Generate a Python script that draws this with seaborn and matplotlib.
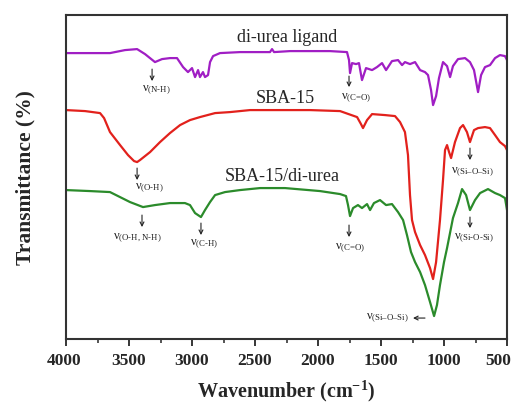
import numpy as np
import pandas as pd
import seaborn as sns
import matplotlib.pyplot as plt
import matplotlib.transforms as mtransforms
from matplotlib.ticker import MultipleLocator

# spectra (wavenumber in cm-1, transmittance in arbitrary offset units)
ligand_wn = [4000, 3810, 3651, 3532, 3436, 3373, 3294, 3238, 3175, 3119, 3071, 3032, 3000, 2976,
             2952, 2937, 2913, 2897, 2873, 2857, 2833, 2778, 2619, 2460, 2381, 2365, 2349, 2222,
             2063, 1905, 1770, 1754, 1746, 1730, 1698, 1675, 1651, 1619, 1571, 1532, 1492, 1460,
             1413, 1365, 1333, 1310, 1270, 1230, 1190, 1151, 1127, 1103, 1087, 1063, 1040, 1008,
             976, 952, 929, 889, 833, 794, 762, 730, 706, 675, 635, 595, 556, 516, 500]
ligand_t = [286, 286, 286, 289, 290, 285, 277, 280, 281, 281, 272, 267, 271, 262,
            269, 262, 267, 262, 264, 277, 283, 286, 287, 287, 287, 290, 287, 288,
            288, 288, 287, 279, 266, 276, 275, 276, 259, 271, 269, 272, 276, 269,
            278, 279, 274, 277, 275, 277, 269, 267, 264, 249, 234, 243, 261, 277,
            273, 262, 273, 280, 281, 277, 269, 247, 264, 272, 274, 281, 284, 283, 279]

sba_wn = [4000, 3849, 3730, 3698, 3651, 3571, 3508, 3460, 3436, 3413, 3333, 3254, 3175, 3095,
          3016, 2937, 2817, 2698, 2540, 2381, 2222, 2063, 1825, 1690, 1659, 1643, 1611, 1571,
          1468, 1389, 1349, 1310, 1286, 1270, 1254, 1230, 1190, 1151, 1111, 1087, 1063, 1032,
          1008, 992, 976, 960, 944, 913, 873, 849, 818, 794, 762, 730, 675, 635, 595, 556,
          516, 500]
sba_t = [229, 228, 226, 221, 207, 194, 184, 178, 177, 179, 187, 197, 206, 214,
         219, 222, 226, 227, 229, 229, 229, 229, 228, 222, 215, 211, 219, 225,
         224, 223, 217, 207, 184, 144, 119, 107, 94, 84, 71, 60, 77, 119,
         159, 189, 194, 187, 181, 197, 211, 214, 207, 197, 209, 211, 212, 211, 204, 197,
         193, 189]

hybrid_wn = [4000, 3810, 3651, 3492, 3389, 3294, 3175, 3056, 3016, 2976, 2929, 2897, 2857, 2817,
             2738, 2619, 2460, 2262, 1984, 1825, 1778, 1762, 1746, 1722, 1683, 1651, 1611, 1587,
             1556, 1508, 1460, 1413, 1365, 1325, 1294, 1262, 1230, 1190, 1151, 1111, 1079, 1056,
             1032, 1000, 976, 929, 889, 857, 825, 794, 754, 714, 651, 595, 556, 516, 500]
hybrid_t = [149, 148, 147, 137, 132, 134, 136, 136, 134, 126, 122, 129, 137, 144,
            147, 149, 151, 151, 148, 145, 143, 134, 123, 131, 134, 131, 135, 129,
            136, 139, 134, 135, 127, 119, 104, 87, 77, 67, 54, 37, 23, 34,
            54, 77, 91, 121, 136, 150, 144, 129, 139, 146, 150, 146, 144, 141, 129]

sample_names = ['di-urea ligand', 'SBA-15', 'SBA-15/di-urea']
sample_colors = ['#A01EC4', '#E2211C', '#2B8B2B']

df = pd.concat([
    pd.DataFrame({'wn': ligand_wn, 't': ligand_t, 'sample': sample_names[0]}),
    pd.DataFrame({'wn': sba_wn, 't': sba_t, 'sample': sample_names[1]}),
    pd.DataFrame({'wn': hybrid_wn, 't': hybrid_t, 'sample': sample_names[2]}),
])

sns.set_style('ticks')
plt.rcParams['font.family'] = ['Liberation Serif', 'DejaVu Serif']
plt.rcParams['mathtext.fontset'] = 'custom'
plt.rcParams['mathtext.rm'] = 'Liberation Serif'
plt.rcParams['mathtext.it'] = 'Liberation Serif'
plt.rcParams['mathtext.bf'] = 'Liberation Serif:bold'

fig = plt.figure(figsize=(5.17, 4.08), dpi=100)
ax = fig.add_axes([0.1277, 0.169, 0.853, 0.794])
sns.lineplot(ax=ax, data=df, x='wn', y='t', hue='sample', palette=sample_colors,
             hue_order=sample_names, sort=False, estimator=None, lw=1.6, legend=False)

ax.set_xlim(4000, 500)
ax.set_ylim(0, 324)
ax.xaxis.set_major_locator(MultipleLocator(500))
ax.xaxis.set_minor_locator(MultipleLocator(250))
ax.set_yticks([])
ax.tick_params(axis='x', which='major', direction='out', length=5, width=1.3, pad=5,
               labelsize=12.5, top=False)
ax.tick_params(axis='x', which='minor', direction='out', length=3, width=1.1, top=False)
fig.canvas.draw()
# the end labels sit a little inside, as in the source figure
shifts = {'500': -0.09, '4000': -0.02}
for lab in ax.get_xticklabels():
    lab.set_fontweight('bold')
    dx = shifts.get(lab.get_text(), 0)
    if dx:
        lab.set_transform(lab.get_transform() +
                          mtransforms.ScaledTranslation(dx, 0, fig.dpi_scale_trans))
for sp in ax.spines.values():
    sp.set_visible(True)
    sp.set_linewidth(1.5)
    sp.set_color('#333333')

ax.set_xlabel(r'Wavenumber (cm$^{\mathbf{-1}}$)', fontsize=14.5, fontweight='bold', labelpad=7)
ax.set_ylabel('Transmittance (%)', fontsize=15.5, fontweight='bold', labelpad=22)

# sample names
ax.text(2246, 302, 'di-urea ligand', ha='center', va='center', fontsize=13)
ax.text(2262, 241, 'SBA-15', ha='center', va='center', fontsize=13)
ax.text(2286, 163, 'SBA-15/di-urea', ha='center', va='center', fontsize=13)

# band assignments: (label, arrow x, arrow top, arrow bottom, text x, text y)
bands = [
    ('(N-H)', 3317, 270, 258, 3286, 249),
    ('(C=O)', 1754, 263, 252, 1698, 241),
    ('(O-H)', 3436, 171, 159, 3341, 151),
    ('(Si\u2013O\u2013Si)', 794, 191, 179, 778, 167),
    ('(O-H, N-H)', 3397, 124, 112, 3436, 101),
    ('(C-H)', 2929, 116, 104, 2905, 95),
    ('(C=O)', 1754, 114, 102, 1746, 91),
    ('(Si-O-Si)', 794, 122, 111, 762, 101),
]
for sub, xa, y0, y1, xt, yt in bands:
    ax.annotate('', xy=(xa, y1), xytext=(xa, y0),
                arrowprops=dict(arrowstyle='->', lw=0.8, color='#222222',
                                shrinkA=0, shrinkB=0, mutation_scale=7))
    ax.text(xt, yt, r'$\nu_{\text{' + sub + '}}$', ha='center', va='center',
            fontsize=9, color='#222222')

ax.text(1452, 21, '$\\nu_{\\text{(Si\u2013O\u2013Si)}}$', ha='center', va='center',
        fontsize=9, color='#222222')
ax.annotate('', xy=(1246, 21), xytext=(1151, 21),
            arrowprops=dict(arrowstyle='->', lw=0.8, color='#222222',
                            shrinkA=0, shrinkB=0, mutation_scale=7))

plt.savefig('out.png', dpi=100)
